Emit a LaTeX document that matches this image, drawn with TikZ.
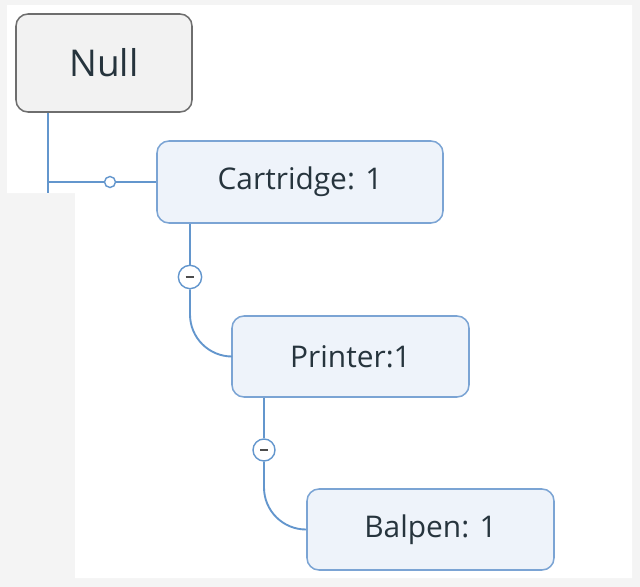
\documentclass[tikz,border=0pt]{standalone}
\usepackage{fontspec}
\setmainfont{Open Sans}
\usepackage{xcolor}
\definecolor{bggray}{HTML}{F4F4F4}
\definecolor{nullfill}{HTML}{F2F2F2}
\definecolor{nulldraw}{HTML}{6E6E6E}
\definecolor{boxfill}{HTML}{EEF3FA}
\definecolor{boxdraw}{HTML}{7BA4D4}
\definecolor{linkblue}{HTML}{6396CD}
\definecolor{txt}{HTML}{26343D}

\begin{document}
\begin{tikzpicture}[x=0.03cm, y=-0.03cm,
    topic/.style={draw=boxdraw, fill=boxfill, line width=1.3pt, rounded corners=0.36cm,
      inner sep=0pt, minimum height=2.43cm, text=txt, font=\fontsize{25.5}{30}\selectfont},
    root/.style={topic, draw=nulldraw, fill=nullfill, minimum height=2.94cm,
      font=\fontsize{31.5}{36}\selectfont},
    link/.style={draw=linkblue, line width=1.6pt},
    knob/.style={circle, draw=linkblue, fill=white, line width=1.2pt, inner sep=0pt}]
  \fill[bggray] (0,0) rectangle (640,587);
  \fill[white] (7,5) -- (632,5) -- (632,578) -- (75,578) -- (75,193) -- (7,193) -- cycle;
  \useasboundingbox (0,0) rectangle (640,587);

  \node[root, minimum width=5.28cm] (null) at (104,63) {Null};
  \node[topic, minimum width=8.58cm, minimum height=2.46cm] (cart) at (300,182) {Cartridge: 1};
  \node[topic, minimum width=7.11cm] (printer) at (350.5,356.5) {Printer:1};
  \node[topic, minimum width=7.41cm] (balpen) at (430.5,529.5) {Balpen: 1};

  \coordinate (tail) at (48,193);
  \node[knob, minimum size=0.33cm] (c1) at (110,182) {};
  \node[knob, minimum size=0.7cm] (m1) at (190,277) {};
  \node[knob, minimum size=0.66cm] (m2) at (264,450) {};

  \draw[link] (null.south west -| tail) -- (tail);
  \draw[link] (tail |- cart.west) -- (c1) -- (cart.west);
  \draw[link] (cart.south west -| m1) -- (m1);
  \draw[link, rounded corners=1.26cm] (m1.south) |- (printer.west);
  \draw[link] (printer.south west -| m2) -- (m2);
  \draw[link, rounded corners=1.26cm] (m2.south) |- (balpen.west);
  \draw[gray!60!black, line width=2.5pt] ([xshift=-0.13cm]m1.center) -- ([xshift=0.13cm]m1.center);
  \draw[gray!60!black, line width=2.5pt] ([xshift=-0.12cm]m2.center) -- ([xshift=0.12cm]m2.center);
\end{tikzpicture}
\end{document}
